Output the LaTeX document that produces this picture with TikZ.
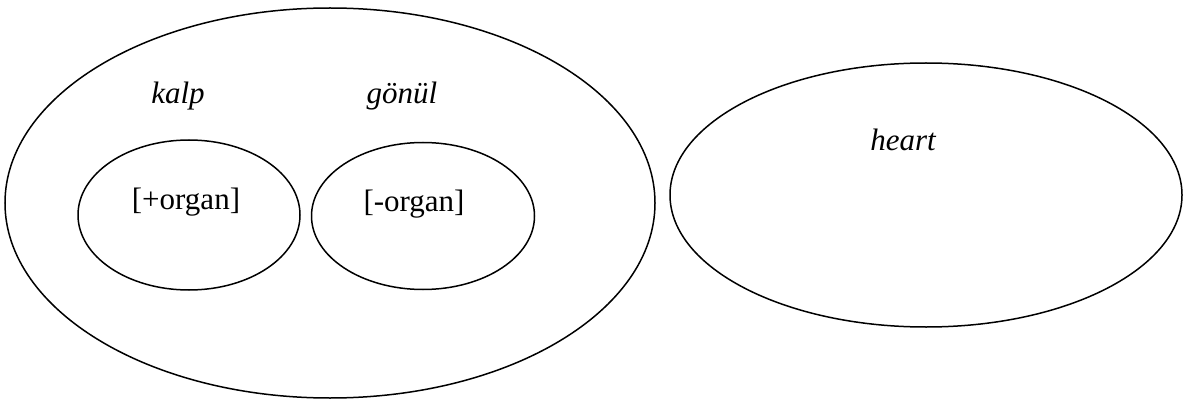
\documentclass[tikz,border=0pt]{standalone}
\usepackage{fontspec}
\setmainfont{Liberation Serif}[ItalicFont={Liberation Serif Italic}]
\usetikzlibrary{shapes.geometric}

\begin{document}
\begin{tikzpicture}[x=1pt,y=-1pt,line width=1.5pt]
\tikzset{set/.style={draw,ellipse,inner sep=0pt},
         word/.style={font=\fontsize{31}{36}\selectfont\itshape},
         feat/.style={font=\fontsize{31}{36}\selectfont}}
\useasboundingbox (0,0) rectangle (1189,401);
% the two fields
\node[set,minimum width=650pt,minimum height=390pt] (tr) at (330,203) {};
\node[set,minimum width=512pt,minimum height=264pt] (en) at (926,195) {};
% subsets inside the turkish field
\node[set,minimum width=222pt,minimum height=150pt] (org) at (189,215) {};
\node[set,minimum width=223pt,minimum height=147pt] (norg) at (423,216) {};
% labels
\node[word] (kalp) at (178,96) {kalp};
\node[word] (gonul) at (402,96) {gönül};
\node[feat] (plus) at (186,202) {[+organ]};
\node[feat] (minus) at (414,204) {[-organ]};
\node[word] (heart) at (903,140) {heart};
\end{tikzpicture}
\end{document}
